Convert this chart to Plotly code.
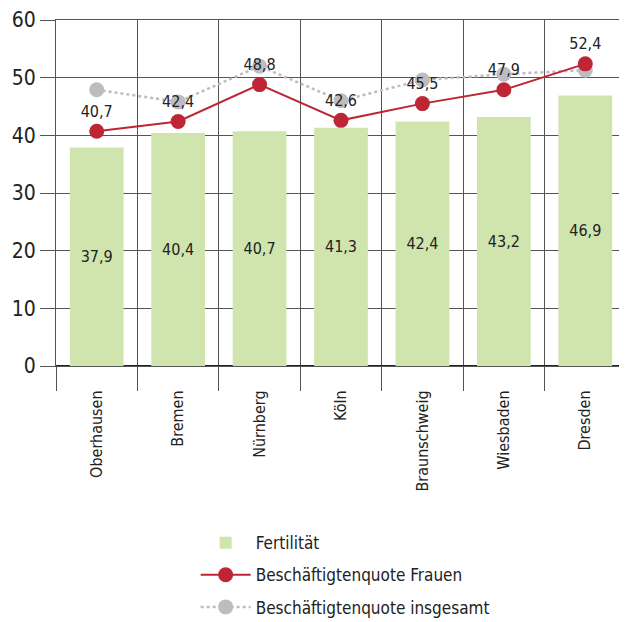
import plotly.graph_objects as go

cities = ["Oberhausen", "Bremen", "Nürnberg", "Köln", "Braunschweig", "Wiesbaden", "Dresden"]
fertilitaet = [37.9, 40.4, 40.7, 41.3, 42.4, 43.2, 46.9]
quote_frauen = [40.7, 42.4, 48.8, 42.6, 45.5, 47.9, 52.4]
quote_gesamt = [47.9, 45.8, 52.0, 46.0, 49.6, 50.6, 51.3]
y_ticks = [0, 10, 20, 30, 40, 50, 60]

FONT = "Liberation Sans Narrow, DejaVu Sans Condensed, Open Sans"
GRID = "#555555"
TXT = "#222222"

fig = go.Figure()
fig.add_trace(go.Bar(
    x=cities, y=fertilitaet, name="Fertilität", legendgroup="a",
    marker=dict(color="#cfe5ad", line=dict(width=0)), width=0.66,
    texttemplate="%{y:.1f}", textposition="inside", insidetextanchor="middle",
    textfont=dict(family=FONT, size=16, color=TXT), textangle=0,
))
fig.add_trace(go.Scatter(
    x=cities, y=quote_gesamt, name="Beschäftigtenquote insgesamt", legendgroup="c",
    mode="lines+markers",
    line=dict(color="#bdbdc1", width=2.5, dash="dot"),
    marker=dict(color="#bdbdc1", size=15),
    legendrank=3,
))
fig.add_trace(go.Scatter(
    x=cities, y=quote_frauen, name="Beschäftigtenquote Frauen", legendgroup="b",
    mode="lines+markers+text",
    line=dict(color="#be2535", width=2),
    marker=dict(color="#be2535", size=15),
    texttemplate="%{y:.1f}",
    textposition="top center",
    textfont=dict(family=FONT, size=16, color=TXT),
    legendrank=2,
))
fig.data[0].legendrank = 1

fig.update_layout(
    width=619, height=614,
    margin=dict(l=48, r=1, t=12, b=256, autoexpand=False),
    paper_bgcolor="white", plot_bgcolor="white",
    font=dict(family=FONT, size=17, color=TXT),
    separators=",.",
    legend=dict(
        x=0.245, y=-0.46, xanchor="left", yanchor="top",
        font=dict(family=FONT, size=17, color=TXT),
        itemwidth=50, tracegroupgap=7,
    ),
    xaxis=dict(
        type="category", tickson="boundaries", ticks="outside", ticklen=24,
        tickcolor=GRID, showgrid=True, gridcolor=GRID, gridwidth=1,
        tickangle=-90, tickfont=dict(family=FONT, size=16, color=TXT),
        ticklabelstandoff=17,
        showline=True, linecolor=GRID, mirror=True,
        range=[-0.5, 6.5], automargin=False,
    ),
    yaxis=dict(
        range=[0, 60], tickvals=y_ticks, ticks="outside", ticklen=15,
        tickcolor=GRID, showgrid=True, gridcolor=GRID, gridwidth=1,
        showline=True, linecolor=GRID, mirror=True,
        zeroline=True, zerolinecolor="#222222", zerolinewidth=1.5,
        tickfont=dict(family=FONT, size=21, color=TXT),
        automargin=False,
    ),
)

fig.write_html("out.html")
